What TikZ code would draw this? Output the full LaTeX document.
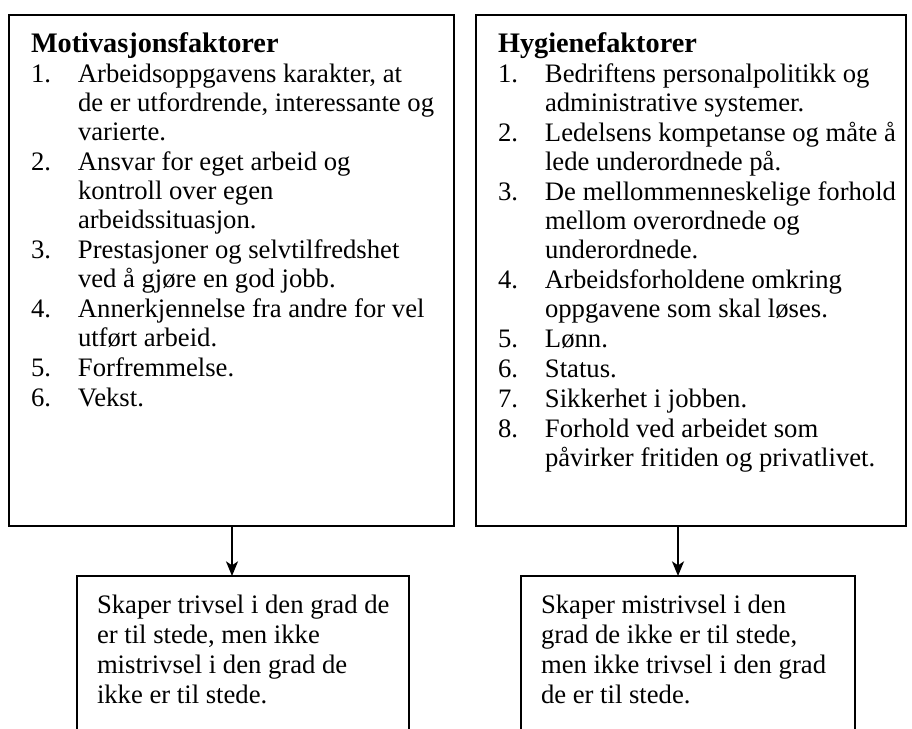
\documentclass[tikz,border=0pt]{standalone}
\usepackage{fontspec}
\setmainfont{Liberation Serif}
\usetikzlibrary{arrows.meta, positioning}

% heading and numbered line with hanging indent
\newcommand{\factorhead}[1]{{\fontsize{21.2pt}{21.8pt}\selectfont\bfseries\rule{0pt}{28.3pt}#1\par}}
\newcommand{\factoritem}[2]{\hangindent=35.25pt\hangafter=1\noindent\makebox[35.25pt][l]{#1}#2\par}

\begin{document}
\begin{tikzpicture}[
  x=0.75pt, y=-0.75pt,
  factorbox/.style={
    rectangle,
    draw=black,
    line width=1.6pt,
    anchor=north west,
    inner sep=0pt,
    outer sep=0pt,
    execute at begin node={\begin{minipage}[t][383.25pt][t]{#1}%
      \fontsize{20pt}{21.8pt}\selectfont\raggedright\leftskip=16.5pt\parskip=0.6pt},
    execute at end node={\end{minipage}}
  },
  effectbox/.style={
    rectangle,
    draw=black,
    line width=1.6pt,
    inner sep=0pt,
    outer sep=0pt,
    execute at begin node={\begin{minipage}[t][142.5pt][t]{#1}%
      \fontsize{20pt}{22.5pt}\selectfont\raggedright\leftskip=15pt\rule{0pt}{27.75pt}},
    execute at end node={\end{minipage}}
  },
  flow/.style={-{Stealth[length=11pt, width=9pt, inset=3pt]}, line width=1.3pt}
]
\useasboundingbox (0,0) rectangle (912,728);

\node[factorbox=333.75pt] (motiv) at (9,15) {%
  \factorhead{Motivasjonsfaktorer}
  \factoritem{1.}{Arbeidsoppgavens karakter, at\newline de er utfordrende, interessante og\newline varierte.}
  \factoritem{2.}{Ansvar for eget arbeid og\newline kontroll over egen\newline arbeidssituasjon.}
  \factoritem{3.}{Prestasjoner og selvtilfredshet\newline ved å gjøre en god jobb.}
  \factoritem{4.}{Annerkjennelse fra andre for vel\newline utført arbeid.}
  \factoritem{5.}{Forfremmelse.}
  \factoritem{6.}{Vekst.}
};
\node[factorbox=322.5pt] (hygiene) at (476,15) {%
  \factorhead{Hygienefaktorer}
  \factoritem{1.}{Bedriftens personalpolitikk og\newline administrative systemer.}
  \factoritem{2.}{Ledelsens kompetanse og måte å\newline lede underordnede på.}
  \factoritem{3.}{De mellommenneskelige forhold\newline mellom overordnede og\newline underordnede.}
  \factoritem{4.}{Arbeidsforholdene omkring\newline oppgavene som skal løses.}
  \factoritem{5.}{Lønn.}
  \factoritem{6.}{Status.}
  \factoritem{7.}{Sikkerhet i jobben.}
  \factoritem{8.}{Forhold ved arbeidet som\newline påvirker fritiden og privatlivet.}
};

\node[effectbox=249pt, below right=37.5pt and 51pt of motiv.south west] (trivsel) {%
  Skaper trivsel i den grad de\newline er til stede, men ikke\newline mistrivsel i den grad de\newline ikke er til stede.};
\node[effectbox=250.5pt, below right=37.5pt and 33.75pt of hygiene.south west] (mistrivsel) {%
  Skaper mistrivsel i den\newline grad de ikke er til stede,\newline men ikke trivsel i den grad\newline de er til stede.};

\draw[flow] ([xshift=0.375pt]motiv.south) -- ([xshift=0.375pt]motiv.south |- trivsel.north);
\draw[flow] ([xshift=-9.75pt]hygiene.south) -- ([xshift=-9.75pt]hygiene.south |- mistrivsel.north);

\end{tikzpicture}
\end{document}
